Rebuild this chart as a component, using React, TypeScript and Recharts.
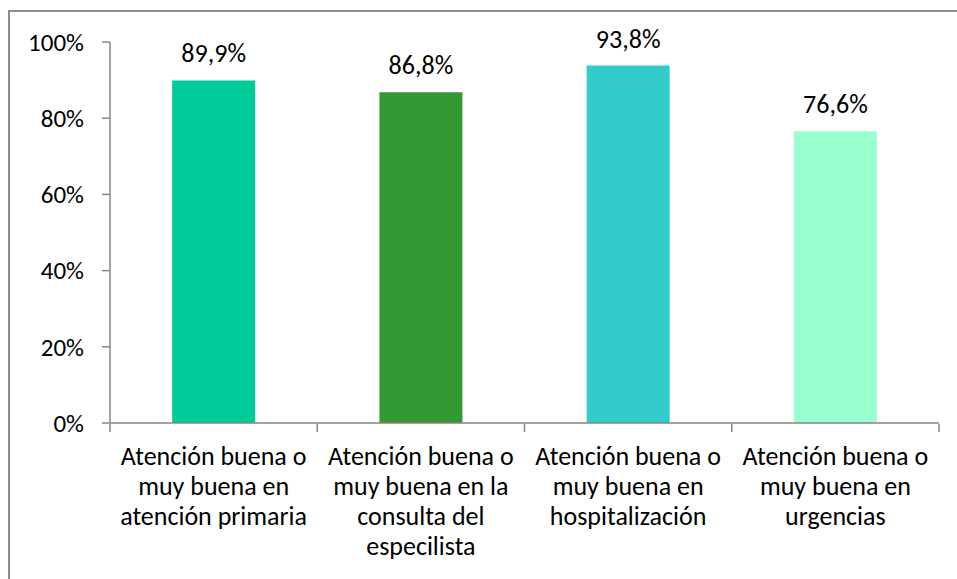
import React from "react"
import { BarChart, Bar, XAxis, YAxis, Cell, LabelList } from "recharts"

// categories (label lines) and the share of good/very good ratings
const categories = [
  "Atención buena o muy buena en atención primaria",
  "Atención buena o muy buena en la consulta del especilista",
  "Atención buena o muy buena en hospitalización",
  "Atención buena o muy buena en urgencias",
]
const labelLines = [
  ["Atención buena o", "muy buena en", "atención primaria"],
  ["Atención buena o", "muy buena en la", "consulta del", "especilista"],
  ["Atención buena o", "muy buena en", "hospitalización"],
  ["Atención buena o", "muy buena en", "urgencias"],
]
const values = [0.899, 0.868, 0.938, 0.766]
const barColors = ["#00CC99", "#339933", "#33CCCC", "#99FFCC"]
const yTicks = [0, 0.2, 0.4, 0.6, 0.8, 1]
const boundaryTicks = [0, 1, 2, 3, 4]

const data = categories.map((name, i) => ({ name, idx: i, value: values[i] }))

const FONT = "Carlito, Lato, 'Open Sans', sans-serif"
const AXIS = "#868686"

const pct = (v: number) => `${Math.round(v * 100)}%`
const pctLabel = (v: any) => `${(Number(v) * 100).toFixed(1).replace(".", ",")}%`

function CategoryTick(props: any) {
  const { x, y, index } = props
  const lines = labelLines[index] || []
  return (
    <text x={x} y={y} textAnchor="middle" fill="#000" fontSize={26} fontFamily={FONT}>
      {lines.map((l, i) => (
        <tspan key={i} x={x} dy={i === 0 ? 34 : 30}>
          {l}
        </tspan>
      ))}
    </text>
  )
}

const NoTick = () => <g />

export default function App() {
  return (
    <div style={{ position: "absolute", left: 0, top: 0, width: 957, height: 579, background: "#fff", overflow: "hidden" }}>
      <div
        style={{
          position: "absolute",
          left: 8,
          top: 10,
          width: 1000,
          height: 700,
          borderLeft: "2px solid #8c8c8c",
          borderTop: "2px solid #8c8c8c",
        }}
      />
      <div style={{ position: "absolute", left: 0, top: 0 }}>
        <BarChart
          width={957}
          height={579}
          data={data}
          margin={{ top: 42, right: 18, bottom: 0, left: 0 }}
          barCategoryGap="30%"
        >
          {/* category labels, drawn at the plot's bottom edge */}
          <XAxis
            xAxisId="cat"
            dataKey="name"
            tick={<CategoryTick />}
            tickLine={false}
            axisLine={{ stroke: AXIS, strokeWidth: 1.5 }}
            height={1}
            interval={0}
          />
          {/* tick marks between categories; this axis reserves the label room */}
          <XAxis
            xAxisId="edges"
            type="number"
            dataKey="idx"
            domain={[0, 4]}
            ticks={boundaryTicks}
            interval={0}
            tick={<NoTick />}
            tickSize={8}
            tickLine={{ stroke: AXIS, strokeWidth: 1.5 }}
            axisLine={false}
            height={155}
          />
          <YAxis
            domain={[0, 1]}
            ticks={yTicks}
            tickFormatter={pct}
            width={110}
            tickSize={8}
            tickMargin={18}
            axisLine={{ stroke: AXIS, strokeWidth: 1.5 }}
            tickLine={{ stroke: AXIS, strokeWidth: 1.5 }}
            tick={{ fill: "#000", fontSize: 25, fontFamily: FONT }}
          />
          <Bar dataKey="value" xAxisId="cat" isAnimationActive={false}>
            {data.map((d, i) => (
              <Cell key={d.name} fill={barColors[i]} />
            ))}
            <LabelList
              dataKey="value"
              position="top"
              offset={18}
              formatter={pctLabel}
              style={{ fill: "#000", fontSize: 26, fontFamily: FONT }}
            />
          </Bar>
        </BarChart>
      </div>
    </div>
  )
}
